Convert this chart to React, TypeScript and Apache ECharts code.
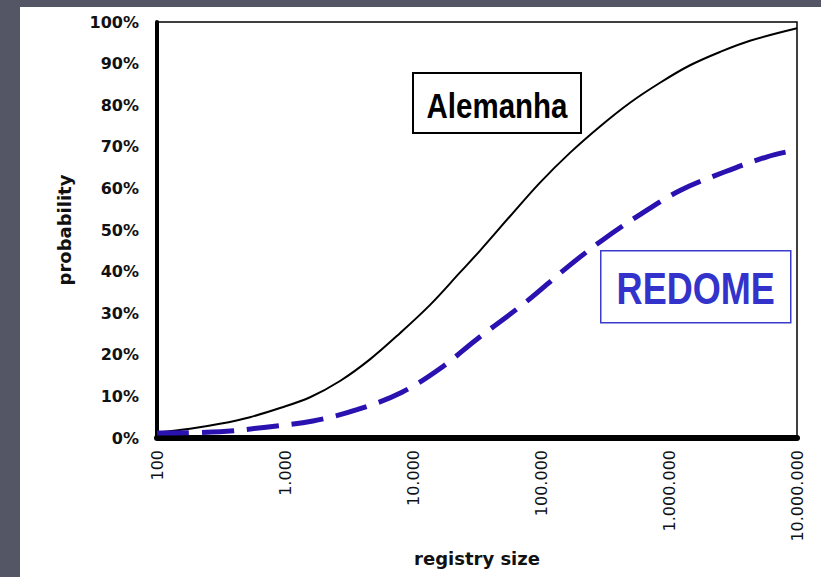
import React, { useEffect, useRef } from "react";
import * as echarts from "echarts";

// Registry size (x, log scale) and probability (%)
const alemanhaX = [100, 181, 310, 533, 914, 1570, 2690, 4610, 7910, 13600, 23300, 33300, 57300, 98200, 169000, 289000, 496000, 851000, 1460000, 2500000, 4290000, 10000000];
const alemanhaY = [1.3, 2.2, 3.4, 5.0, 7.2, 9.8, 13.7, 18.9, 25.2, 32.0, 39.8, 45.0, 53.3, 61.4, 68.6, 74.9, 80.6, 85.4, 89.6, 92.8, 95.5, 98.5];

const redomeX = [100, 310, 711, 1655, 3650, 8200, 17150, 30480, 77770, 154000, 299600, 593600, 1219000, 2738000, 5834000, 10000000];
const redomeY = [1.2, 1.5, 2.6, 4.1, 6.8, 11.0, 17.2, 23.4, 32.9, 40.6, 47.5, 53.7, 59.5, 64.0, 67.6, 69.3];

const xTickLabels = ["100", "1.000", "10.000", "100.000", "1.000.000", "10.000.000"];
const yTickValues = [0, 10, 20, 30, 40, 50, 60, 70, 80, 90, 100];

const zip = (xs: number[], ys: number[]) => xs.map((x, i) => [x, ys[i]]);

export default function App() {
  const ref = useRef<HTMLDivElement>(null);

  useEffect(() => {
    if (!ref.current) return;
    const chart = echarts.init(ref.current, null, { renderer: "svg" });
    chart.setOption({
      animation: false,
      backgroundColor: "transparent",
      grid: {
        left: 137,
        right: 24,
        top: 15,
        bottom: 139,
        show: true,
        borderColor: "#000",
        borderWidth: 1.5,
        backgroundColor: "#fff",
      },
      xAxis: {
        type: "log",
        logBase: 10,
        min: 100,
        max: 10000000,
        axisLine: { show: true, lineStyle: { color: "#000", width: 6 } },
        axisTick: { show: false },
        splitLine: { show: false },
        axisLabel: {
          rotate: 90,
          margin: 12,
          fontFamily: "DejaVu Sans",
          fontSize: 16,
          color: "#111",
          formatter: (v: number) => xTickLabels[Math.round(Math.log10(v)) - 2] ?? "",
        },
        name: "registry size",
        nameLocation: "middle",
        nameGap: 89,
        nameTextStyle: {
          fontFamily: "DejaVu Sans",
          fontWeight: "bold",
          fontSize: 18,
          color: "#111",
        },
      },
      yAxis: {
        type: "value",
        min: 0,
        max: 100,
        interval: 10,
        axisLine: { show: true, lineStyle: { color: "#000", width: 4 } },
        axisTick: { show: false },
        splitLine: { show: false },
        axisLabel: {
          margin: 18,
          padding: [6, 0, 0, 0],
          fontFamily: "DejaVu Sans",
          fontWeight: "bold",
          fontSize: 16,
          color: "#111",
          formatter: (v: number) => (yTickValues.includes(v) ? `${v}%` : ""),
        },
        name: "probability",
        nameLocation: "middle",
        nameRotate: 90,
        nameGap: 84,
        nameTextStyle: {
          fontFamily: "DejaVu Sans",
          fontWeight: "bold",
          fontSize: 18,
          color: "#111",
        },
      },
      series: [
        {
          name: "Alemanha",
          type: "line",
          data: zip(alemanhaX, alemanhaY),
          smooth: 0.35,
          showSymbol: false,
          lineStyle: { color: "#000", width: 2 },
          z: 3,
        },
        {
          name: "REDOME",
          type: "line",
          data: zip(redomeX, redomeY),
          smooth: 0.35,
          showSymbol: false,
          lineStyle: { color: "#2a12b0", width: 5, type: [32, 13] },
          z: 4,
        },
      ],
      graphic: [
        {
          type: "group",
          left: 392,
          top: 65,
          children: [
            {
              type: "rect",
              shape: { x: 0, y: 0, width: 168, height: 60 },
              style: { fill: "#fff", stroke: "#000", lineWidth: 2 },
            },
            {
              type: "text",
              x: 84,
              y: 32,
              scaleX: 0.82,
              style: {
                text: "Alemanha",
                fill: "#000",
                font: "bold 36px 'Liberation Sans', Arial, sans-serif",
                align: "center",
                verticalAlign: "middle",
              },
            },
          ],
        },
        {
          type: "group",
          left: 580,
          top: 243,
          children: [
            {
              type: "rect",
              shape: { x: 0, y: 0, width: 190, height: 72 },
              style: { fill: "#fff", stroke: "#3b3bcc", lineWidth: 1.5 },
            },
            {
              type: "text",
              x: 95,
              y: 38,
              scaleX: 0.82,
              style: {
                text: "REDOME",
                fill: "#3333cc",
                font: "bold 44px 'Liberation Sans', Arial, sans-serif",
                align: "center",
                verticalAlign: "middle",
              },
            },
          ],
        },
      ],
    });
    return () => chart.dispose();
  }, []);

  return (
    <div
      style={{
        position: "fixed",
        left: 0,
        top: 0,
        width: 821,
        height: 577,
        background: "#545665",
        overflow: "hidden",
      }}
    >
      <div
        style={{
          position: "absolute",
          left: 20,
          top: 7,
          width: 801,
          height: 570,
          background: "#fff",
        }}
      >
        <div ref={ref} style={{ width: 801, height: 570 }} />
      </div>
    </div>
  );
}
